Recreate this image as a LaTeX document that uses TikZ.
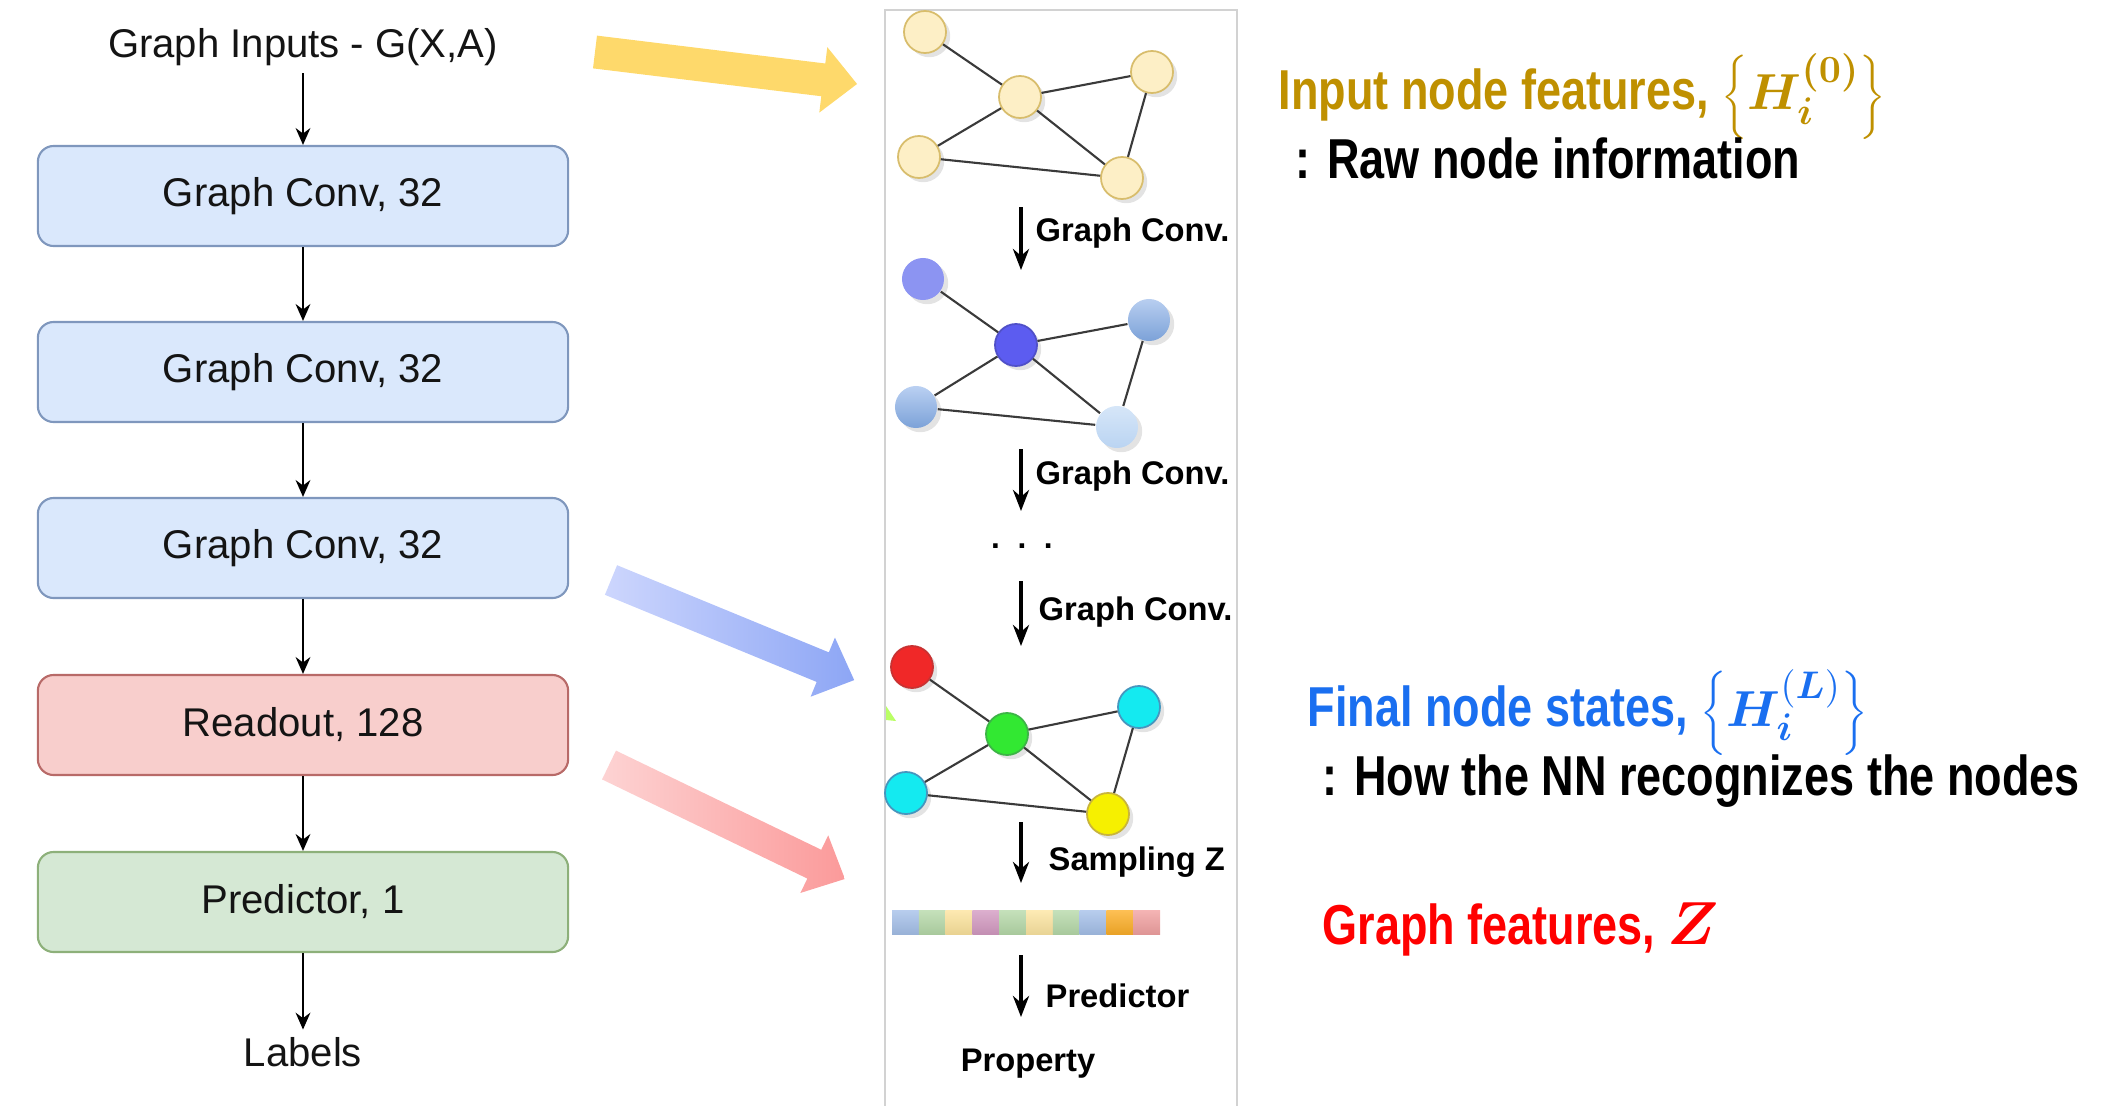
\documentclass[tikz,border=0pt]{standalone}
\usepackage[no-math]{fontspec}
\setmainfont{Liberation Sans}
\newfontfamily\kfont[FakeStretch=0.8]{Liberation Sans}
\usepackage{bm}
\usetikzlibrary{arrows.meta,shadows,calc}
\definecolor{bxblue}{HTML}{DAE8FC}\definecolor{bxbluel}{HTML}{7F97BD}
\definecolor{bxred}{HTML}{F8CECC}\definecolor{bxredl}{HTML}{B86A68}
\definecolor{bxgreen}{HTML}{D5E8D4}\definecolor{bxgreenl}{HTML}{8DB07A}
\definecolor{goldtxt}{HTML}{BF9000}\definecolor{bluetxt}{HTML}{1A6FF0}\definecolor{redtxt}{HTML}{FF0000}
\definecolor{yfill}{HTML}{FDEFC6}\definecolor{yline}{HTML}{D8BD6C}
\definecolor{arrY}{HTML}{FED96B}
\definecolor{arrBa}{HTML}{CDD6FD}\definecolor{arrBb}{HTML}{8DA6F5}
\definecolor{arrRa}{HTML}{FDD3D3}\definecolor{arrRb}{HTML}{FB9A9A}
\definecolor{edgec}{HTML}{3A3A3A}
\definecolor{panel}{HTML}{D2D2D2}
\begin{document}
\begin{tikzpicture}[x=0.01cm,y=-0.01cm,
  blk/.style={rectangle, rounded corners=4.5pt, minimum width=5.3cm, minimum height=1.0cm, line width=0.6pt, font=\fontsize{11.4}{13}\selectfont, text=black!92},
  bluebox/.style={blk, fill=bxblue, draw=bxbluel},
  redbox/.style={blk, fill=bxred, draw=bxredl},
  greenbox/.style={blk, fill=bxgreen, draw=bxgreenl},
  plain/.style={font=\fontsize{11.4}{13}\selectfont, text=black!92, inner sep=2pt},
  flow/.style={-{Stealth[length=4.8pt,width=4.2pt]}, line width=0.6pt, black},
  gnode/.style={circle, minimum size=0.42cm, inner sep=0pt, line width=0.5pt, drop shadow={opacity=0.22, shadow xshift=1.2pt, shadow yshift=-1.2pt}},
  ynode/.style={gnode, fill=yfill, draw=yline},
  gedge/.style={draw=edgec, line width=0.6pt},
  step lbl/.style={anchor=west, font=\bfseries\fontsize{9.3}{11}\selectfont, inner sep=0pt},
  midarrow/.style={-{Stealth[length=6pt,width=4.6pt]}, line width=0.9pt, black},
  bigtxt/.style={anchor=base west, inner sep=0pt, font=\kfont\bfseries\fontsize{16}{19}\selectfont}
]
\useasboundingbox (0,0) rectangle (2120,1106);

% ---------------- left column ----------------
\node[plain] (inp) at (303,47) {Graph Inputs - G(X,A)};
\node[bluebox] (c1) at (303,196) {Graph Conv, 32};
\node[bluebox] (c2) at (303,372) {Graph Conv, 32};
\node[bluebox] (c3) at (303,548) {Graph Conv, 32};
\node[redbox] (ro) at (303,725) {Readout, 128};
\node[greenbox] (pr) at (303,902) {Predictor, 1};
\node[plain] (lab) at (303,1052) {Labels};
\draw[flow] (inp) -- (c1);
\draw[flow] (c1) -- (c2);
\draw[flow] (c2) -- (c3);
\draw[flow] (c3) -- (ro);
\draw[flow] (ro) -- (pr);
\draw[flow] (pr) -- (lab);

% ---------------- big arrows ----------------
\begin{scope}[shift={(595,52)}, rotate=-6.96]
  \fill[arrY] (0,-16.5) -- (230,-16.5) -- (230,-33) -- (264,0) -- (230,33) -- (230,16.5) -- (0,16.5) -- cycle;
\end{scope}
\begin{scope}[shift={(611,580)}, rotate=-22.37]
  \shade[left color=arrBa, right color=arrBb] (0,-16) -- (229,-16) -- (229,-32) -- (263,0) -- (229,32) -- (229,16) -- (0,16) -- cycle;
\end{scope}
\begin{scope}[shift={(609,765)}, rotate=-25.78]
  \shade[left color=arrRa, right color=arrRb] (0,-16) -- (228,-16) -- (228,-32) -- (262,0) -- (228,32) -- (228,16) -- (0,16) -- cycle;
\end{scope}

% ---------------- middle panel ----------------
\draw[panel, line width=0.6pt] (885,1110) -- (885,10) -- (1237,10) -- (1237,1110);
\fill[green!45!yellow!60] (886,706) -- (896,721) -- (886,720) -- cycle;

% graph 1 (input)
\node[ynode] (y1) at (925,32) {};
\node[ynode] (y2) at (1020,97) {};
\node[ynode] (y3) at (1152,72) {};
\node[ynode] (y4) at (919,157) {};
\node[ynode] (y5) at (1122,178) {};
\draw[gedge] (y1) -- (y2) (y2) -- (y3) (y2) -- (y4) (y2) -- (y5) (y3) -- (y5) (y4) -- (y5);

\coordinate (a1s) at (1021,207); \coordinate (a1e) at (1021,270);
\draw[midarrow] (a1s) -- (a1e);
\node[step lbl] (l1) at (1035,233) {Graph Conv.};

% graph 2
\node[gnode, fill={rgb,255:red,140;green,148;blue,242}] (b1) at (923,279) {};
\node[gnode, fill={rgb,255:red,92;green,92;blue,240}, draw={rgb,255:red,80;green,80;blue,200}] (b2) at (1016,345) {};
\node[gnode, top color={rgb,255:red,184;green,206;blue,240}, bottom color={rgb,255:red,124;green,162;blue,216}] (b3) at (1149,320) {};
\node[gnode, top color={rgb,255:red,186;green,208;blue,242}, bottom color={rgb,255:red,124;green,162;blue,216}] (b4) at (916,407) {};
\node[gnode, top color={rgb,255:red,214;green,230;blue,248}, bottom color={rgb,255:red,186;green,212;blue,242}] (b5) at (1117,427) {};
\draw[gedge] (b1) -- (b2) (b2) -- (b3) (b2) -- (b4) (b2) -- (b5) (b3) -- (b5) (b4) -- (b5);

\coordinate (a2s) at (1021,449); \coordinate (a2e) at (1021,511);
\draw[midarrow] (a2s) -- (a2e);
\node[step lbl] (l2) at (1035,476) {Graph Conv.};

\node[font=\bfseries\fontsize{9}{9}\selectfont, inner sep=0pt] (dots) at (1022,546) {.\hspace{5pt}.\hspace{5pt}.};

\coordinate (a3s) at (1021,581); \coordinate (a3e) at (1021,646);
\draw[midarrow] (a3s) -- (a3e);
\node[step lbl] (l3) at (1038,612) {Graph Conv.};

% graph 3 (final)
\node[gnode, fill={rgb,255:red,240;green,40;blue,40}, draw={rgb,255:red,200;green,50;blue,50}] (f1) at (912,667) {};
\node[gnode, fill={rgb,255:red,50;green,232;blue,50}, draw={rgb,255:red,60;green,180;blue,70}] (f2) at (1007,734) {};
\node[gnode, fill={rgb,255:red,20;green,234;blue,240}, draw={rgb,255:red,70;green,150;blue,190}] (f3) at (1139,707) {};
\node[gnode, fill={rgb,255:red,20;green,234;blue,240}, draw={rgb,255:red,70;green,150;blue,190}] (f4) at (906,793) {};
\node[gnode, fill={rgb,255:red,246;green,240;blue,0}, draw={rgb,255:red,200;green,180;blue,60}] (f5) at (1108,814) {};
\draw[gedge] (f1) -- (f2) (f2) -- (f3) (f2) -- (f4) (f2) -- (f5) (f3) -- (f5) (f4) -- (f5);

\coordinate (a4s) at (1021,822); \coordinate (a4e) at (1021,883);
\draw[midarrow] (a4s) -- (a4e);
\node[step lbl] (l4) at (1048,862) {Sampling Z};

% feature bar
\foreach \c [count=\i from 0] in {A6C1EA,B7DAAA,FDE49E,D49BC2,B7DAAA,FDE6A2,B7DAAA,A6C1EA,FDB02A,F2A2A2}{
  \definecolor{barc}{HTML}{\c}
  \shade[top color=barc!80!white, bottom color=barc!92!black] ({892+26.8*\i},910) rectangle ({892+26.8*(\i+1)},934);
}

\coordinate (a5s) at (1021,955); \coordinate (a5e) at (1021,1017);
\draw[midarrow] (a5s) -- (a5e);
\node[step lbl] (l5) at (1045,996) {Predictor};
\node[font=\bfseries\fontsize{9.3}{11}\selectfont, inner sep=0pt] (prop) at (1028,1064) {Property};

% ---------------- right text ----------------
\node[bigtxt, text=goldtxt] (t1) at (1278,110) {Input node features, {\fontsize{15}{18}\selectfont$\bigg\{\bm{H}_{\bm{i}}^{\bm{(0)}}\bigg\}$}};
\node[bigtxt] (t2) at (1295,178) {: Raw node information};
\node[bigtxt, text=bluetxt] (t3) at (1307,726) {Final node states, {\fontsize{15}{18}\selectfont$\bigg\{\bm{H}_{\bm{i}}^{(\bm{L})}\bigg\}$}};
\node[bigtxt] (t4) at (1322,795) {: How the NN recognizes the nodes};
\node[bigtxt, text=redtxt] (t5) at (1322,944) {Graph features, $\bm{Z}$};
\end{tikzpicture}
\end{document}
